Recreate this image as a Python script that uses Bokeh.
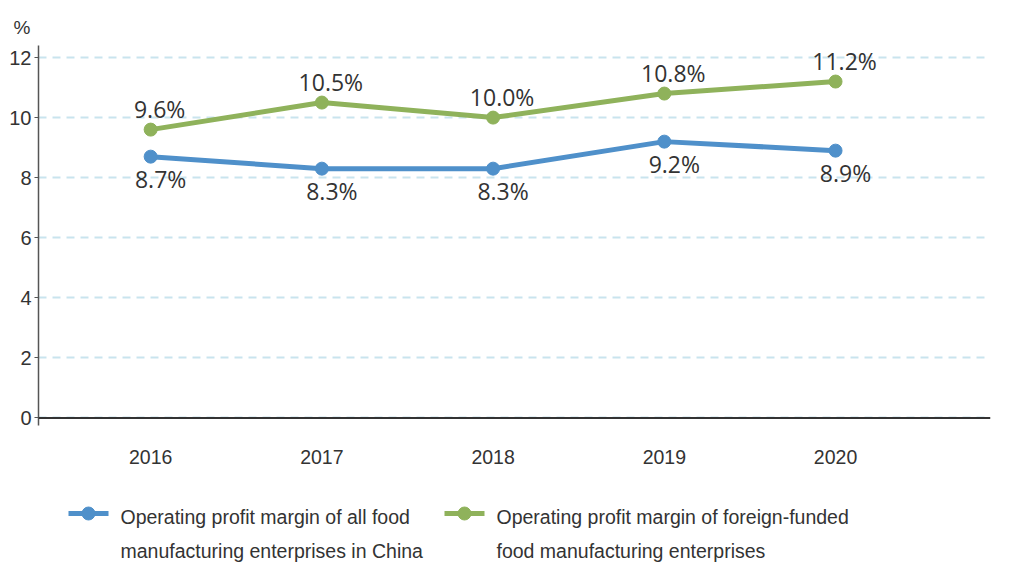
from bokeh.plotting import figure
from bokeh.layouts import column
from bokeh.models import Range1d, FixedTicker, Span, Title, ColumnDataSource
from bokeh.core.properties import value
from bokeh.embed import file_html
from bokeh.resources import INLINE

years = [2016, 2017, 2018, 2019, 2020]
all_food = [8.7, 8.3, 8.3, 9.2, 8.9]
foreign_funded = [9.6, 10.5, 10.0, 10.8, 11.2]
y_ticks = [0, 2, 4, 6, 8, 10, 12]
unit_label = "%"
legend_labels = [
    ["Operating profit margin of all food", "manufacturing enterprises in China"],
    ["Operating profit margin of foreign-funded", "food manufacturing enterprises"],
]

BLUE = "#4f90ca"
GREEN = "#8fb25b"
SANS = "Liberation Sans"

p = figure(width=1010, height=485, output_backend="svg", toolbar_location=None,
           x_range=Range1d(2015.345, 2020.905), y_range=Range1d(-0.25, 12.4),
           min_border_left=38, min_border_right=20, min_border_top=45,
           min_border_bottom=60)
p.outline_line_color = None
p.xgrid.grid_line_color = None
p.ygrid.ticker = FixedTicker(ticks=y_ticks)
p.ygrid.grid_line_color = "#c9e4ee"
p.ygrid.grid_line_width = 2
p.ygrid.grid_line_dash = "8 6"

p.yaxis.ticker = FixedTicker(ticks=y_ticks)
p.yaxis.axis_line_color = "#555555"
p.yaxis.axis_line_width = 1.5
p.yaxis.major_tick_line_color = "#555555"
p.yaxis.major_tick_in = 0
p.yaxis.major_tick_out = 4
p.yaxis.minor_tick_line_color = None
p.yaxis.major_label_standoff = 3
p.yaxis.major_label_text_font = SANS
p.yaxis.major_label_text_font_size = "20px"
p.yaxis.major_label_text_color = "#333333"

p.xaxis.ticker = FixedTicker(ticks=years)
p.xaxis.axis_line_color = None
p.xaxis.major_tick_line_color = None
p.xaxis.minor_tick_line_color = None
p.xaxis.major_tick_in = 0
p.xaxis.major_tick_out = 0
p.xaxis.major_label_standoff = 24
p.xaxis.major_label_text_font = SANS
p.xaxis.major_label_text_font_size = "19.5px"
p.xaxis.major_label_text_color = "#333333"

p.add_layout(Span(location=0, dimension="width", line_color="#333333", line_width=1.8))

p.add_layout(Title(text=unit_label, align="left", offset=-25, standoff=16,
                   text_font=SANS, text_font_size="19px", text_font_style="normal",
                   text_color="#333333"), "above")

src = ColumnDataSource(dict(
    x=years, a=all_food, f=foreign_funded,
    al=[f"{v:.1f}%" for v in all_food],
    fl=[f"{v:.1f}%" for v in foreign_funded],
))

p.line("x", "a", source=src, line_color=BLUE, line_width=5)
p.scatter("x", "a", source=src, size=13, fill_color=BLUE, line_color=BLUE)
p.line("x", "f", source=src, line_color=GREEN, line_width=5)
p.scatter("x", "f", source=src, size=13, fill_color=GREEN, line_color=GREEN)

p.text("x", "f", text="fl", source=src, x_offset=9, y_offset=-21,
       text_align="center", text_baseline="middle",
       text_font=value("Open Sans"), text_font_size="23px", text_color="#333333")
p.text("x", "a", text="al", source=src, x_offset=10, y_offset=22,
       text_align="center", text_baseline="middle",
       text_font=value("Open Sans"), text_font_size="23px", text_color="#333333")

# legend panel (frame aligned with the main plot frame: x in page pixels)
LH = 77
leg = figure(width=1010, height=LH, output_backend="svg", toolbar_location=None,
             x_range=Range1d(38, 990), y_range=Range1d(LH, 0),
             x_axis_type=None, y_axis_type=None,
             min_border=0, min_border_left=38, min_border_right=20,
             min_border_top=0, min_border_bottom=0)
leg.outline_line_color = None
leg.grid.visible = False

colors = [BLUE, GREEN]
line_x0 = [68, 444]
for i, (lab, c) in enumerate(zip(legend_labels, colors)):
    x0 = line_x0[i]
    leg.line([x0, x0 + 40], [28, 28], line_color=c, line_width=5)
    leg.scatter([x0 + 20], [28], size=13, fill_color=c, line_color=c)
    leg.text([x0 + 52, x0 + 52], [31, 65], text=lab, text_align="left",
             text_baseline="middle", text_font=value(SANS),
             text_font_size="19.5px", text_color="#333333")

layout = column(p, leg, spacing=0)
open("out.html", "w").write(file_html(layout, INLINE))
